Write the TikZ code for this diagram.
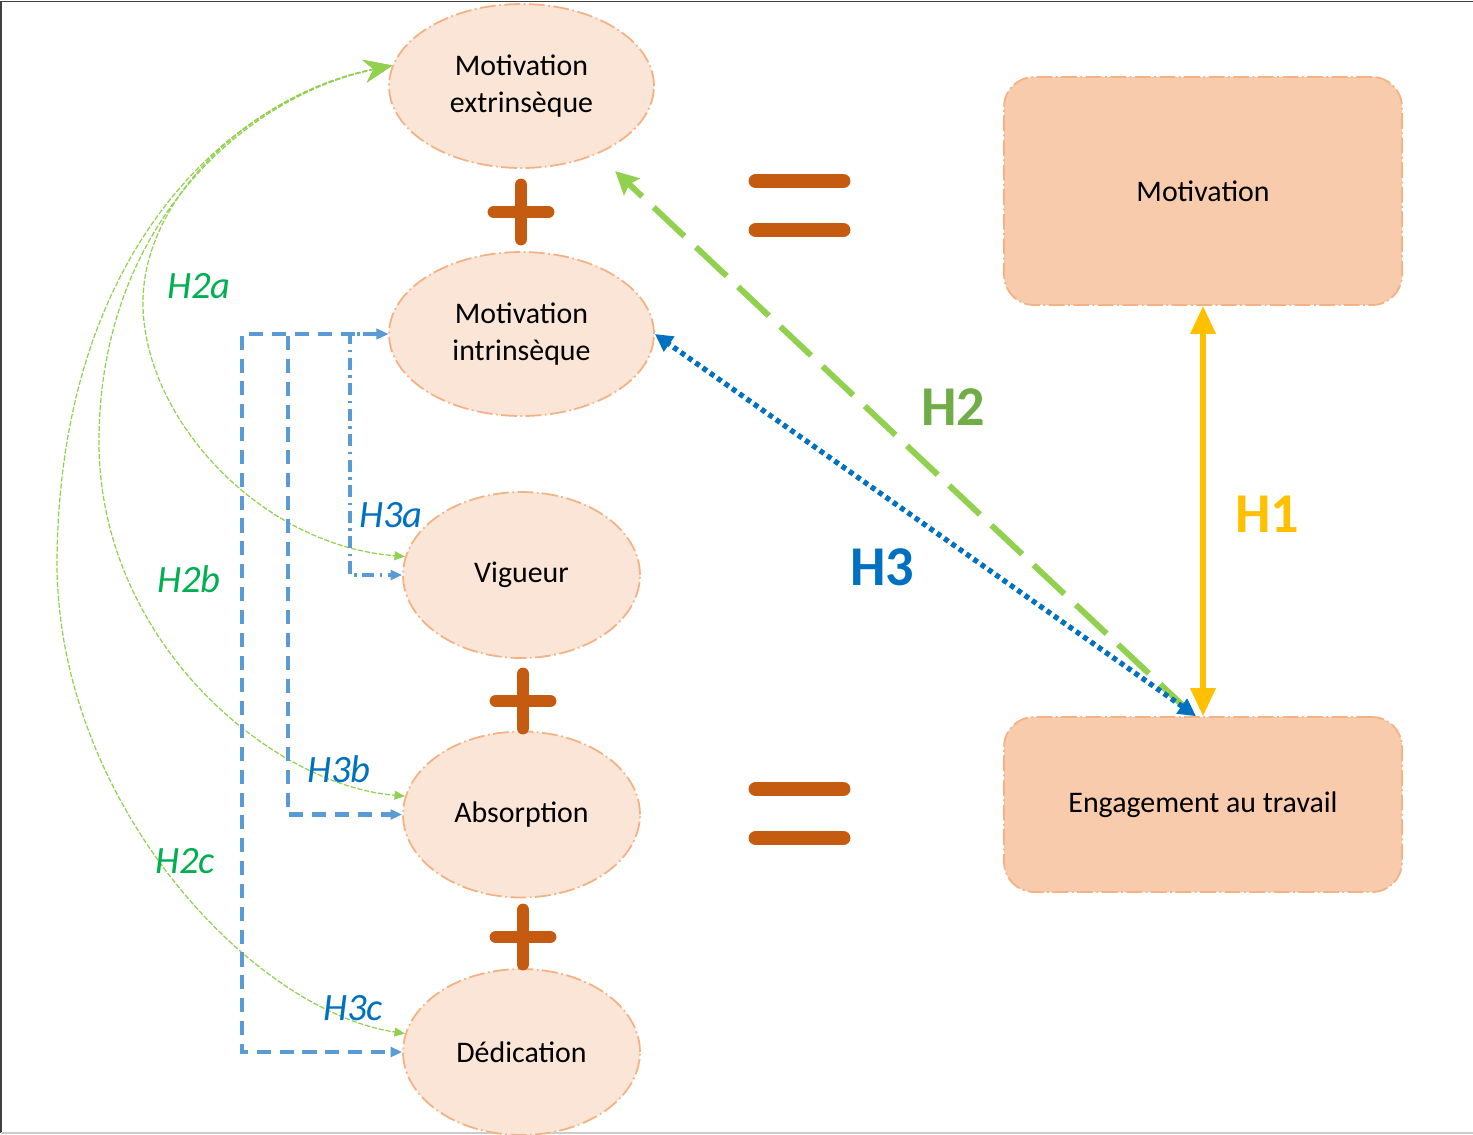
\documentclass[tikz,border=0pt]{standalone}
\usepackage{fontspec}
\setmainfont{Carlito}
\usetikzlibrary{calc,shapes.geometric,arrows.meta}

\definecolor{ovalfill}{HTML}{FBE5D6}
\definecolor{boxfill}{HTML}{F8CBAD}
\definecolor{peachline}{HTML}{F4B183}
\definecolor{signbrown}{HTML}{C55A11}
\definecolor{hyellow}{HTML}{FFC000}
\definecolor{hgreen}{HTML}{92D050}
\definecolor{hgreenlab}{HTML}{70AD47}
\definecolor{subgreen}{HTML}{00B050}
\definecolor{hblue}{HTML}{0070C0}
\definecolor{elbowblue}{HTML}{5B9BD5}

\tikzset{
  oval/.style={ellipse, draw=peachline, fill=ovalfill, line width=1pt,
    dash pattern=on 9pt off 2pt on 1pt off 2pt, inner sep=0pt, align=center,
    minimum width=4.74cm, minimum height=3.32cm, font=\fontsize{17}{21}\selectfont},
  bigbox/.style={rectangle, rounded corners=17pt, draw=peachline, fill=boxfill, line width=1pt,
    dash pattern=on 9pt off 2pt on 1pt off 2pt, minimum width=7.96cm,
    font=\fontsize{17}{21}\selectfont},
  sign/.style={draw=signbrown, line width=7.3pt, line cap=round},
  h1line/.style={draw=hyellow, line width=3pt, {Triangle[length=16pt,width=14pt]}-{Triangle[length=16pt,width=14pt]}},
  h2line/.style={draw=hgreen, line width=3.4pt, dash pattern=on 24pt off 9pt,
    -{Stealth[length=13pt,width=13pt,inset=2pt]}, shorten >=14pt},
  h3line/.style={draw=hblue, line width=3pt, dash pattern=on 2.8pt off 2.3pt,
    {Triangle[length=10pt,width=10pt]}-{Triangle[length=10pt,width=10pt]}},
  h2curve/.style={draw=hgreen, line width=0.7pt, dash pattern=on 3pt off 1pt,
    {Stealth[length=16pt,width=13pt]}-{Triangle[length=6pt,width=5pt]}},
  h3elbow/.style={draw=elbowblue, line width=2.4pt, dash pattern=on 8pt off 5pt,
    {Triangle[length=6.5pt,width=5.5pt]}-{Triangle[length=6.5pt,width=5.5pt]}},
  sublabel/.style={font=\fontsize{22}{26}\selectfont\itshape},
  hlabel/.style={font=\fontsize{32}{36}\selectfont\bfseries}
}

\begin{document}
\begin{tikzpicture}[x=0.02cm, y=-0.02cm]
  \useasboundingbox (0,0) rectangle (1473,1134);
  \draw[black!75, line width=0.8pt] (1473,1.5) -- (1,1.5) -- (1,1133);
  \draw[black!20, line width=0.8pt] (1,1133) -- (1473,1133);

  % ovals
  \node[oval, minimum width=5.3cm, minimum height=3.28cm] (me) at (521.5,86) {Motivation\\extrinsèque};
  \node[oval, minimum width=5.3cm, minimum height=3.28cm] (mi) at (521.5,334) {Motivation\\intrinsèque};
  \node[oval] (vig) at (521.5,575) {Vigueur};
  \node[oval] (abs) at (521.5,814.5) {Absorption};
  \node[oval] (ded) at (521.5,1052) {Dédication};

  % boxes
  \node[bigbox, minimum height=4.56cm] (mot) at (1203,191) {Motivation};
  \node[bigbox, minimum height=3.5cm] (eng) at (1203,804.5) {Engagement au travail};

  % plus and equals signs
  \foreach \px/\py in {521/212, 523/701, 523/937}
    \draw[sign] (\px,\py-27) -- (\px,\py+27) (\px-27,\py) -- (\px+27,\py);
  \foreach \ey in {181, 789}
    \draw[sign, line width=8.5pt] (756,\ey) -- (843,\ey) (756,\ey+49) -- (843,\ey+49);

  % main hypotheses
  \draw[h1line] (mot.south) -- (eng.north);
  \draw[h2line] ($(eng.north)+(-12,-3)$) -- (me.-42);
  \draw[h3line] ($(eng.north)+(-7,0)$) -- (mi.east);

  % green curves
  \draw[h2curve] (me.171) .. controls (250,95) and (140,200) .. (143,307)
    .. controls (146,420) and (260,545) .. (vig.171);
  \draw[h2curve] (me.171) .. controls (250,95) and (100,220) .. (99,440)
    .. controls (98,640) and (270,785) .. (abs.171);
  \draw[h2curve] (me.171) .. controls (240,95) and (60,240) .. (57,560)
    .. controls (56,800) and (250,1010) .. (ded.171);

  % blue elbows
  \draw[h3elbow, dash pattern=on 7pt off 3pt on 1.5pt off 3pt] (mi.west) -- ++(-38,0) |- (vig.west);
  \draw[h3elbow] (mi.west) -- ++(-100,0) |- (abs.west);
  \draw[h3elbow] (mi.west) -- ++(-146,0) |- (ded.west);

  % labels
  \foreach \n/\x/\y in {H2a/199/286, H2b/189/579, H2c/185/861}
    \node[sublabel, text=subgreen] (\n) at (\x,\y) {\n};
  \foreach \n/\x/\y in {H3a/391/515, H3b/339/769, H3c/353/1008}
    \node[sublabel, text=hblue] (\n) at (\x,\y) {\n};
  \node[hlabel, text=hyellow] (H1) at (1267,514) {H1};
  \node[hlabel, text=hgreenlab] (H2) at (953,407) {H2};
  \node[hlabel, text=hblue] (H3) at (882,567) {H3};
\end{tikzpicture}
\end{document}
